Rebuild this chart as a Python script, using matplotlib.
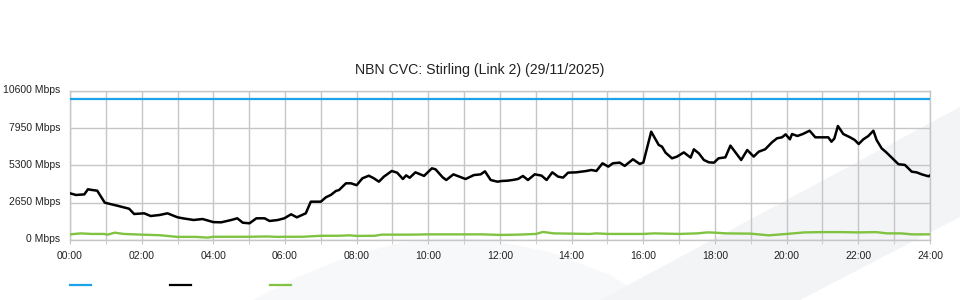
import matplotlib
matplotlib.use("Agg")
import matplotlib.pyplot as plt
import matplotlib.transforms as mtransforms
from matplotlib.lines import Line2D
from matplotlib.patches import Polygon

# capacity line (Mbps)
capacity_mbps = 10000

# traffic (black) - hours since midnight, Mbps
black_hours = [0.0, 0.17, 0.4, 0.5, 0.62, 0.76, 0.97, 1.32, 1.65, 1.79, 2.07, 2.25, 2.5, 2.72,
               3.0, 3.15, 3.45, 3.7, 4.0, 4.22, 4.5, 4.67, 4.82, 5.01, 5.2, 5.43, 5.57, 5.8,
               5.98, 6.17, 6.33, 6.58, 6.72, 7.0, 7.14, 7.28, 7.42, 7.51, 7.7, 7.84, 8.0,
               8.16, 8.34, 8.48, 8.62, 8.76, 8.98, 9.13, 9.29, 9.38, 9.48, 9.64, 9.88, 10.1,
               10.2, 10.4, 10.5, 10.7, 11.04, 11.27, 11.46, 11.58, 11.74, 11.93, 12.05, 12.2,
               12.35, 12.5, 12.64, 12.78, 12.97, 13.16, 13.3, 13.46, 13.62, 13.76, 13.9,
               14.13, 14.41, 14.55, 14.69, 14.86, 15.02, 15.15, 15.34, 15.48, 15.71, 15.9,
               16.0, 16.22, 16.43, 16.52, 16.62, 16.8, 16.94, 17.13, 17.32, 17.41, 17.55,
               17.69, 17.83, 17.97, 18.1, 18.29, 18.43, 18.73, 18.9, 19.08, 19.22, 19.4,
               19.59, 19.73, 19.87, 19.97, 20.09, 20.15, 20.3, 20.45, 20.64, 20.8, 21.16,
               21.25, 21.33, 21.43, 21.58, 21.77, 21.9, 22.01, 22.14, 22.28, 22.42, 22.51,
               22.65, 22.79, 22.98, 23.12, 23.3, 23.49, 23.63, 23.77, 23.96, 24.0]
black_mbps = [3315, 3195, 3240, 3600, 3550, 3500, 2650, 2435, 2220, 1846, 1895, 1704, 1775, 1895,
              1612, 1540, 1420, 1490, 1270, 1255, 1420, 1540, 1230, 1185, 1540, 1540, 1350, 1420,
              1540, 1825, 1610, 1895, 2720, 2720, 3030, 3200, 3480, 3550, 4025, 4025, 3890,
              4380, 4565, 4380, 4140, 4500, 4900, 4780, 4330, 4590, 4420, 4805, 4550, 5090,
              5020, 4450, 4260, 4660, 4330, 4610, 4660, 4875, 4260, 4140, 4190, 4210,
              4260, 4330, 4545, 4260, 4665, 4570, 4260, 4805, 4500, 4430, 4780,
              4805, 4900, 4970, 4900, 5445, 5210, 5445, 5495, 5260, 5730, 5400,
              5500, 7690, 6745, 6630, 6200, 5800, 5920, 6220, 5850, 6440, 6150,
              5680, 5515, 5490, 5800, 5870, 6700, 5680, 6390, 5920, 6270, 6440,
              6935, 7220, 7290, 7500, 7150, 7525, 7385, 7525, 7760, 7290, 7290,
              6980, 7200, 8095, 7525, 7290, 7100, 6815, 7150, 7385, 7760, 7100,
              6510, 6200, 5730, 5380, 5330, 4850, 4800, 4660, 4520, 4590]

# traffic (green) - hours since midnight, Mbps
green_hours = [0, 0.3, 0.6, 0.95, 1.05, 1.25, 1.5, 2.0, 2.5, 3.0, 3.5, 3.85, 4.0, 5.0, 5.5, 5.8,
               6.0, 6.5, 7.0, 7.5, 7.8, 8.0, 8.5, 8.7, 9.0, 9.5, 10.0, 10.5, 11.0, 11.5, 12.0,
               12.5, 13.0, 13.2, 13.5, 14.0, 14.5, 14.7, 15.0, 15.5, 16.0, 16.3, 17.0, 17.5,
               17.8, 18.0, 18.3, 19.0, 19.5, 20.0, 20.5, 21.0, 21.5, 22.0, 22.5, 22.8, 23.2,
               23.5, 24.0]
green_mbps = [400, 470, 430, 430, 380, 520, 430, 380, 340, 220, 220, 170, 230, 230, 250, 220,
              230, 230, 300, 300, 330, 290, 300, 380, 380, 380, 400, 400, 400, 400, 360,
              380, 430, 570, 470, 450, 430, 470, 430, 430, 430, 470, 430, 470,
              540, 520, 470, 450, 330, 430, 540, 560, 560, 540, 560, 470, 470,
              400, 400]

y_ticks = [0, 2650, 5300, 7950, 10600]
x_ticks = list(range(0, 25, 2))
title = "NBN CVC: Stirling (Link 2) (29/11/2025)"

BLUE = "#1aa3e8"
GREEN = "#80c341"
GRID = "#c6c6c6"


def main():
    plt.rcParams['font.family'] = ['Liberation Sans', 'DejaVu Sans']

    fig = plt.figure(figsize=(9.6, 3.0), dpi=100)

    # faint watermark swoosh behind the chart (figure pixel coords, y from top)
    def px(x, y):
        return (x / 960, 1 - y / 300)
    blob = Polygon([px(253, 300), px(300, 276), px(350, 256), px(400, 243), px(440, 238),
                    px(490, 240), px(550, 252), px(610, 275), px(650, 300)],
                   closed=True, transform=fig.transFigure, facecolor="#f7f8f9",
                   edgecolor="none", zorder=0)
    band = Polygon([px(600, 300), px(960, 107), px(960, 217), px(800, 300)],
                   closed=True, transform=fig.transFigure, facecolor="#f3f4f6",
                   edgecolor="none", zorder=0)
    fig.patches.extend([blob, band])

    ax = fig.add_axes([70 / 960, 60 / 300, 860 / 960, 149.3 / 300])
    ax.set_zorder(2)
    ax.set_facecolor("none")

    ax.axhline(capacity_mbps, color=BLUE, linewidth=1.6, zorder=3)
    ax.plot(black_hours, black_mbps, color="black", linewidth=1.8, zorder=4)
    ax.plot(green_hours, green_mbps, color=GREEN, linewidth=1.7, zorder=4)

    ax.set_xlim(0, 24)
    ax.set_ylim(0, 10600)
    ax.set_xticks(x_ticks)
    ax.set_xticks(range(0, 25), minor=True)
    ax.set_xticklabels([f"{h:02d}:00" for h in x_ticks])
    ax.set_yticks(y_ticks)
    ax.set_yticklabels([f"{v} Mbps" for v in y_ticks])
    ax.grid(True, which="both", axis="x", color=GRID, linewidth=1.0, zorder=1)
    ax.grid(True, which="major", axis="y", color=GRID, linewidth=1.0, zorder=1)
    ax.set_axisbelow(True)

    ax.tick_params(axis="x", which="both", length=3, color=GRID, labelsize=7.5,
                   labelcolor="#222222", pad=5)
    ax.tick_params(axis="y", length=0, labelsize=7.5, labelcolor="#222222", pad=7)
    # y labels sit a touch above their grid lines in the original
    shift = mtransforms.ScaledTranslation(0, 1.5 / 100, fig.dpi_scale_trans)
    for lbl in ax.get_yticklabels():
        lbl.set_transform(lbl.get_transform() + shift)
    for s in ax.spines.values():
        s.set_color(GRID)
        s.set_linewidth(1.0)

    fig.text(0.5, 1 - 70 / 300, title, ha="center", va="center", fontsize=10.2,
             color="#222222")

    # legend swatches without labels
    for x0, c in [(70, BLUE), (170, "black"), (270, GREEN)]:
        fig.add_artist(Line2D([x0 / 960, (x0 + 21) / 960], [1 - 285 / 300] * 2,
                              color=c, linewidth=1.6, transform=fig.transFigure))

    fig.savefig("out.png", dpi=100)


if __name__ == "__main__":
    main()
